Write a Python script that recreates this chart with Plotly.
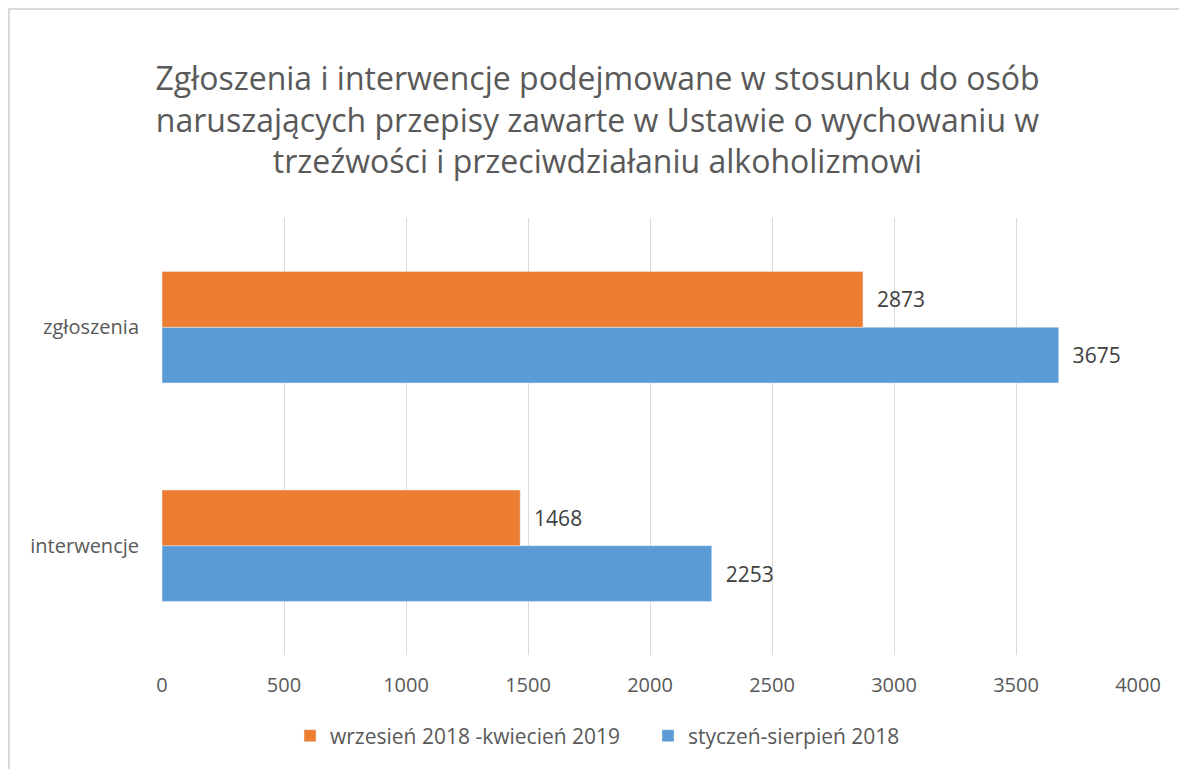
import plotly.graph_objects as go

categories = ["interwencje", "zgłoszenia"]
series_names = ["styczeń-sierpień 2018", "wrzesień 2018 -kwiecień 2019"]
values_jan_aug_2018 = [2253, 3675]
values_sep2018_apr2019 = [1468, 2873]
x_ticks = [0, 500, 1000, 1500, 2000, 2500, 3000, 3500, 4000]
title_lines = [
    "Zgłoszenia i interwencje podejmowane w stosunku do osób",
    "naruszających przepisy zawarte w Ustawie o wychowaniu w",
    "trzeźwości i przeciwdziałaniu alkoholizmowi",
]

FONT = "Open Sans"
GRAY = "#595959"
PAD = "\u00a0\u00a0"

fig = go.Figure()
fig.add_trace(go.Bar(
    y=categories, x=values_jan_aug_2018, orientation="h", name=series_names[0],
    marker=dict(color="#5B9BD5"),
    text=[PAD + str(v) for v in values_jan_aug_2018], textposition="outside",
    textfont=dict(size=21, color="#404040", family=FONT), cliponaxis=False,
))
fig.add_trace(go.Bar(
    y=categories, x=values_sep2018_apr2019, orientation="h", name=series_names[1],
    marker=dict(color="#ED7D31"),
    text=[PAD + str(v) for v in values_sep2018_apr2019], textposition="outside",
    textfont=dict(size=21, color="#404040", family=FONT), cliponaxis=False,
))

# page offset of the figure (body margin) is 8px
OFF = 8
W, H = 1187 - OFF, 769 - OFF
L, R, T, B = 162 - OFF, 49, 218 - OFF, 114
pw, ph = W - L - R, H - T - B

def px_x(x):  # screen px -> paper
    return (x - OFF - L) / pw

def px_y(y):
    return (H - B - (y - OFF)) / ph

fig.update_layout(
    width=W, height=H,
    margin=dict(l=L, r=R, t=T, b=B),
    paper_bgcolor="white", plot_bgcolor="white",
    barmode="group", bargap=0.49, bargroupgap=0,
    font=dict(family=FONT, color=GRAY),
    title=dict(
        text="<br>".join(title_lines),
        x=0.5, xanchor="center", y=1 - (90 - OFF) / H, yanchor="middle",
        font=dict(size=32, color=GRAY, family=FONT),
    ),
    xaxis=dict(
        range=[0, 4000], tickvals=x_ticks, showgrid=True, gridcolor="#D9D9D9",
        gridwidth=1, zeroline=False, showline=False, ticks="",
        tickfont=dict(size=20, color=GRAY), ticklabelstandoff=16,
    ),
    yaxis=dict(
        categoryorder="array", categoryarray=categories, showgrid=False,
        zeroline=False, showline=False, ticks="",
        tickfont=dict(size=20, color=GRAY), ticklabelstandoff=22,
    ),
    legend=dict(
        orientation="h", x=px_x(290), xanchor="left", y=px_y(736), yanchor="middle",
        traceorder="reversed", font=dict(size=21, color=GRAY),
        itemwidth=30, entrywidth=313, entrywidthmode="pixels",
    ),
    shapes=[dict(
        type="rect", xref="paper", yref="paper",
        x0=px_x(9), x1=px_x(1200), y0=px_y(780), y1=px_y(9),
        line=dict(color="#D9D9D9", width=2), fillcolor="rgba(0,0,0,0)", layer="below",
    )],
)

fig.write_html("out.html")
